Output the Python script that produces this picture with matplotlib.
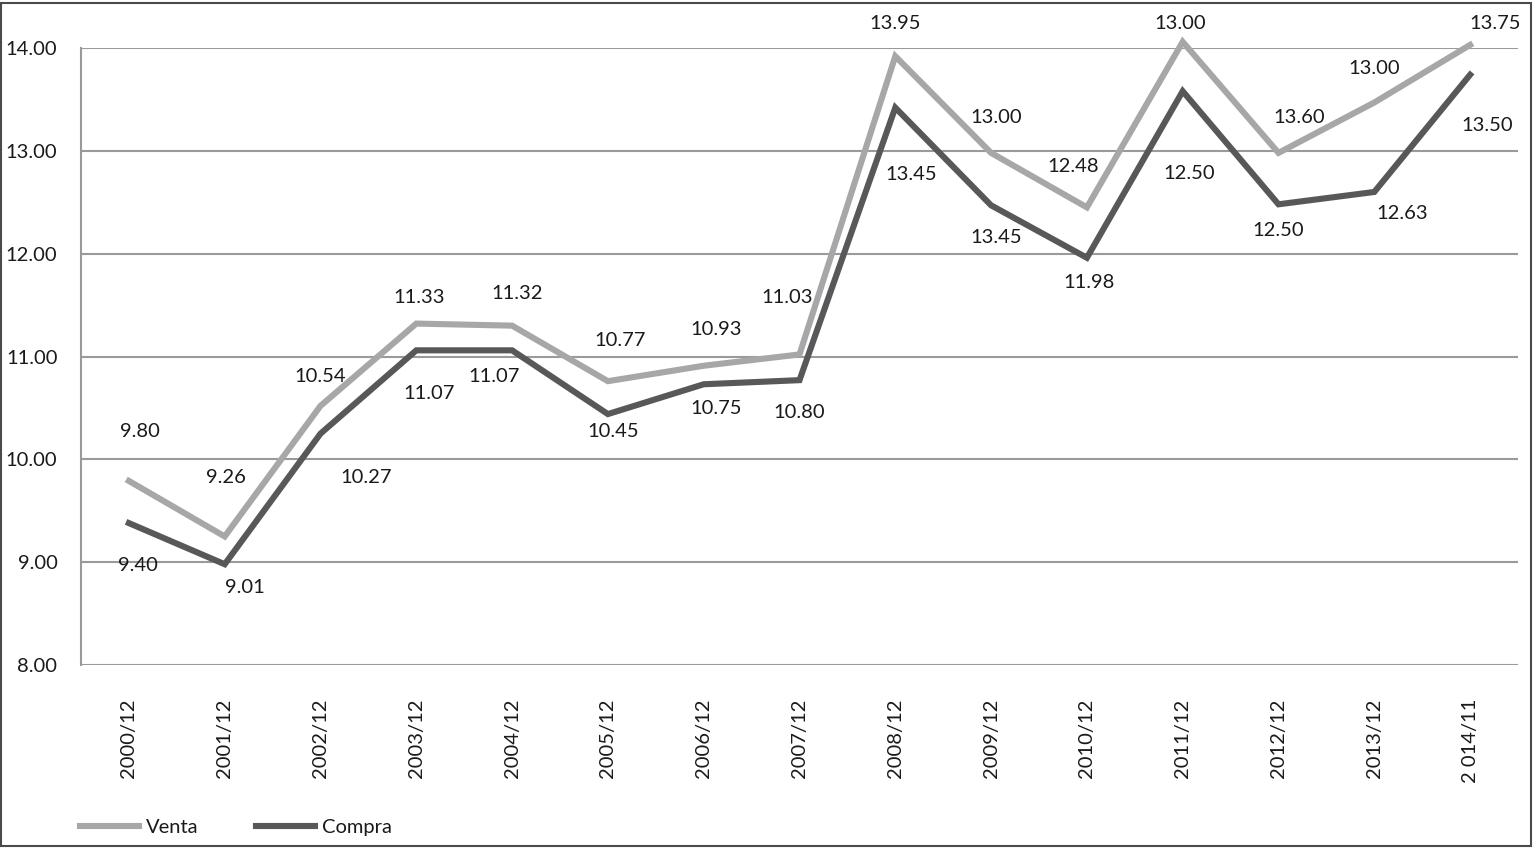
import matplotlib
matplotlib.use("Agg")
import matplotlib.pyplot as plt
from matplotlib.patches import Rectangle

categories = ["2000/12", "2001/12", "2002/12", "2003/12", "2004/12", "2005/12",
              "2006/12", "2007/12", "2008/12", "2009/12", "2010/12", "2011/12",
              "2012/12", "2013/12", "2 014/11"]

venta = [9.79, 9.25, 10.52, 11.32, 11.30, 10.76, 10.91, 11.02, 13.92, 12.98,
         12.45, 14.06, 12.98, 13.47, 14.03]
compra = [9.38, 8.98, 10.25, 11.06, 11.06, 10.44, 10.73, 10.77, 13.42, 12.47,
          11.96, 13.58, 12.48, 12.60, 13.74]

venta_labels = ["9.80", "9.26", "10.54", "11.33", "11.32", "10.77", "10.93", "11.03",
                "13.95", "13.00", "12.48", "13.00", "13.60", "13.00", "13.75"]
compra_labels = ["9.40", "9.01", "10.27", "11.07", "11.07", "10.45", "10.75", "10.80",
                 "13.45", "13.45", "11.98", "12.50", "12.50", "12.63", "13.50"]

# label placement (category offset, data y)
venta_lab_dx = [0.115, 0.01, 0.0, 0.03, 0.05, 0.13, 0.13, -0.13, 0.0, 0.05, -0.145, -0.03, 0.22, 0.0, 0.26]
venta_lab_y = [10.266, 9.828, 10.810, 11.569, 11.608, 11.151, 11.258, 11.569, 14.243,
               13.329, 12.843, 14.243, 13.329, 13.796, 14.243]
compra_lab_dx = [0.095, 0.21, 0.475, 0.13, -0.19, 0.05, 0.13, 0.0, 0.17, 0.05, 0.02, 0.07, 0.0, 0.29, 0.18]
compra_lab_y = [8.972, 8.749, 9.828, 10.645, 10.810, 10.266, 10.499, 10.451, 12.765,
                12.162, 11.715, 12.778, 12.230, 12.386, 13.242]

yticks = [8, 9, 10, 11, 12, 13, 14]

plt.rcParams['font.family'] = ['Lato', 'DejaVu Sans']
FS = 14.5
TXT = '#1a1a1a'
C_VENTA = '#a7a7a9'
C_COMPRA = '#58585a'
GRID = '#9a9a9a'

fig = plt.figure(figsize=(15.37, 8.48), dpi=100)
ax = fig.add_axes([81/1537, 1-665/848, (1518-81)/1537, (665-48)/848])

x = list(range(len(categories)))
ax.plot(x, venta, color=C_VENTA, lw=4.4, label='Venta', solid_joinstyle='miter', zorder=3, clip_on=False)
ax.plot(x, compra, color=C_COMPRA, lw=4.4, label='Compra', solid_joinstyle='miter', zorder=3, clip_on=False)

for i in x:
    ax.text(i + venta_lab_dx[i], venta_lab_y[i], venta_labels[i], ha='center', va='center',
            fontsize=FS, color=TXT, zorder=4)
    ax.text(i + compra_lab_dx[i], compra_lab_y[i], compra_labels[i], ha='center', va='center',
            fontsize=FS, color=TXT, zorder=4)

ax.set_xlim(-0.5, len(categories) - 0.5)
ax.set_ylim(8, 14)
ax.set_yticks(yticks)
ax.set_yticklabels([f"{v:.2f}" for v in yticks], fontsize=FS, color=TXT)
ax.set_xticks(x)
ax.set_xticklabels(categories, rotation=90, fontsize=FS, color=TXT, va='top', ha='center')
ax.tick_params(axis='x', length=0, pad=24)
ax.tick_params(axis='y', length=0, pad=17)
ax.yaxis.grid(True, color=GRID, lw=1.5)
ax.set_axisbelow(True)
for s in ['top', 'right', 'bottom']:
    ax.spines[s].set_visible(False)
ax.spines['left'].set_color(GRID)
ax.spines['left'].set_linewidth(1.5)

leg = fig.legend(loc='lower left', bbox_to_anchor=(62/1537, -0.0075), ncol=2, frameon=False,
                 fontsize=FS, handlelength=2.9, handletextpad=0.35, columnspacing=2.9,
                 labelcolor=TXT)
for h in leg.get_lines():
    h.set_linewidth(4.4)

fig.patches.append(Rectangle((0.0008, 0.002), 0.9955, 0.995, transform=fig.transFigure,
                             fill=False, edgecolor='#4a4a4a', lw=1.5))

fig.savefig('out.png', dpi=100)
